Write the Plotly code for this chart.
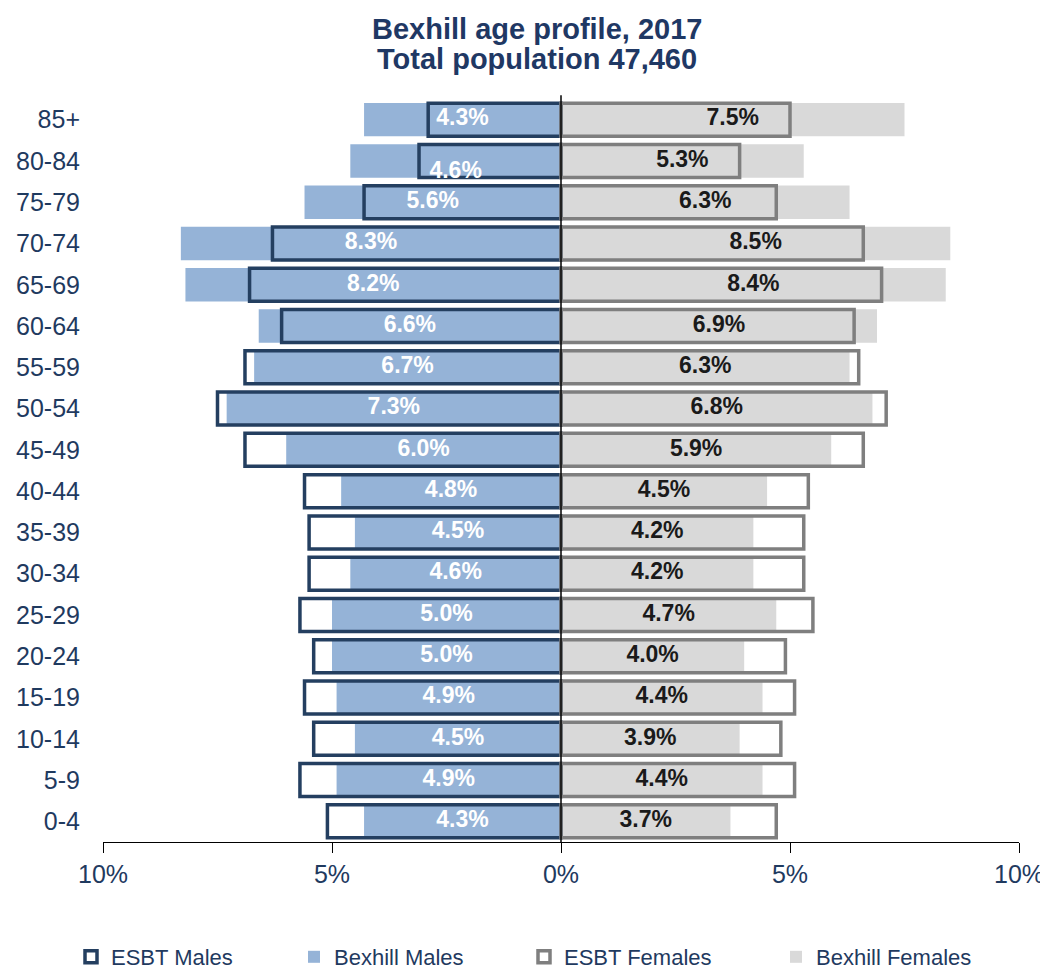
import plotly.graph_objects as go

age_groups = ["0-4", "5-9", "10-14", "15-19", "20-24", "25-29", "30-34", "35-39",
              "40-44", "45-49", "50-54", "55-59", "60-64", "65-69", "70-74",
              "75-79", "80-84", "85+"]

bexhill_males = [4.3, 4.9, 4.5, 4.9, 5.0, 5.0, 4.6, 4.5, 4.8, 6.0, 7.3, 6.7, 6.6,
                 8.2, 8.3, 5.6, 4.6, 4.3]
esbt_males = [5.1, 5.7, 5.4, 5.6, 5.4, 5.7, 5.5, 5.5, 5.6, 6.9, 7.5, 6.9, 6.1,
              6.8, 6.3, 4.3, 3.1, 2.9]
bexhill_females = [3.7, 4.4, 3.9, 4.4, 4.0, 4.7, 4.2, 4.2, 4.5, 5.9, 6.8, 6.3, 6.9,
                   8.4, 8.5, 6.3, 5.3, 7.5]
esbt_females = [4.7, 5.1, 4.8, 5.1, 4.9, 5.5, 5.3, 5.3, 5.4, 6.6, 7.1, 6.5, 6.4,
                7.0, 6.6, 4.7, 3.9, 5.0]

tick_vals = [-10, -5, 0, 5, 10]
tick_text = ["10%", "5%", "0%", "5%", "10%"]

title_lines = ["Bexhill age profile, 2017", "Total population 47,460"]

NAVY = "#1F3864"
TXT = "#1F3A5F"
FONT = "Liberation Sans, Arial, sans-serif"

# the page adds an 8px body margin, so the figure is 8px smaller on each axis
W, H = 1040, 962
ML, MR, MT, MB = 95, 29, 91, 128
PLOT_H = H - MT - MB
PLOT_W = W - ML - MR

fig = go.Figure()

fig.add_trace(go.Bar(
    y=age_groups, x=[-v for v in bexhill_males], orientation="h",
    name="Bexhill Males", marker=dict(color="#95B3D7", line=dict(width=0)),
    width=0.81, legend="legend2", hoverinfo="skip"))
fig.add_trace(go.Bar(
    y=age_groups, x=bexhill_females, orientation="h",
    name="Bexhill Females", marker=dict(color="#D9D9D9", line=dict(width=0)),
    width=0.81, legend="legend4", hoverinfo="skip"))
fig.add_trace(go.Bar(
    y=age_groups, x=[-v for v in esbt_males], orientation="h",
    name="ESBT Males", marker=dict(color="rgba(0,0,0,0)", line=dict(color="#243F60", width=3.5)),
    width=0.8, legend="legend", hoverinfo="skip"))
fig.add_trace(go.Bar(
    y=age_groups, x=esbt_females, orientation="h",
    name="ESBT Females", marker=dict(color="rgba(0,0,0,0)", line=dict(color="#7F7F7F", width=3.5)),
    width=0.8, legend="legend3", hoverinfo="skip"))

male_pos = ["bottom center" if g == "80-84" else "middle center" for g in age_groups]
fig.add_trace(go.Scatter(
    y=age_groups, x=[-v / 2 for v in bexhill_males], mode="text",
    text=[f"{v:.1f}%" for v in bexhill_males], textposition=male_pos,
    textfont=dict(family=FONT, size=23, color="white", weight="bold"),
    showlegend=False, hoverinfo="skip", cliponaxis=False))
fig.add_trace(go.Scatter(
    y=age_groups, x=[v / 2 for v in bexhill_females], mode="text",
    text=[f"{v:.1f}%" for v in bexhill_females], textposition="middle center",
    textfont=dict(family=FONT, size=23, color="#1A1A1A", weight="bold"),
    showlegend=False, hoverinfo="skip", cliponaxis=False))

fig.add_shape(type="line", x0=0, x1=0, y0=0, y1=1.005, xref="x", yref="paper",
              line=dict(color="black", width=1.5), layer="above")

# two-line title with tight line spacing
title_x = (529 - ML) / PLOT_W
for line, px_above in zip(title_lines, [70, 40]):
    fig.add_annotation(text=f"<b>{line}</b>", xref="paper", yref="paper",
                       x=title_x, y=1 + px_above / PLOT_H, xanchor="center",
                       yanchor="middle", showarrow=False,
                       font=dict(family=FONT, size=29, color=NAVY))

legend_common = dict(orientation="h", xref="container", xanchor="left",
                     yref="container", y=13 / H, yanchor="middle",
                     font=dict(size=22, color=TXT), bgcolor="rgba(0,0,0,0)")
legend_x = [63, 286, 516, 768]

fig.update_layout(
    width=W, height=H,
    barmode="overlay",
    paper_bgcolor="white", plot_bgcolor="white",
    margin=dict(l=ML, r=MR, t=MT, b=MB, autoexpand=False),
    font=dict(family=FONT, color=TXT, size=24),
    xaxis=dict(range=[-10, 10], tickvals=tick_vals, ticktext=tick_text,
               showgrid=False, zeroline=False, showline=True, linecolor="black",
               linewidth=1, ticks="outside", ticklen=10, tickcolor="black",
               tickfont=dict(size=25, color=TXT), automargin=False),
    yaxis=dict(type="category", categoryorder="array", categoryarray=age_groups,
               range=[-0.5, 17.5], showgrid=False, zeroline=False, showline=False,
               ticks="", ticklabelstandoff=22, automargin=False,
               tickfont=dict(size=25, color=TXT)),
    legend=dict(x=legend_x[0] / W, **legend_common),
    legend2=dict(x=legend_x[1] / W, **legend_common),
    legend3=dict(x=legend_x[2] / W, **legend_common),
    legend4=dict(x=legend_x[3] / W, **legend_common),
    showlegend=True,
)

fig.write_html("out.html")
